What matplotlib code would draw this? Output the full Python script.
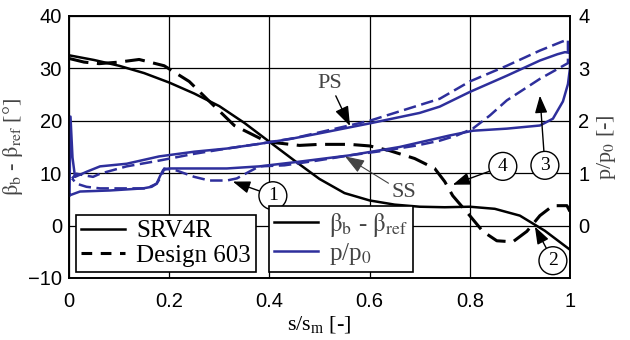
import matplotlib.pyplot as plt
from matplotlib.lines import Line2D

# blade angle distribution beta_b - beta_ref [deg] over s/s_m
s_srv = [0, 0.05, 0.1, 0.15, 0.2, 0.25, 0.3, 0.35, 0.4, 0.45, 0.5, 0.55,
         0.6, 0.65, 0.7, 0.75, 0.8, 0.85, 0.9, 0.95, 1.0]
beta_srv = [32.5, 31.6, 30.5, 29.1, 27.3, 25.2, 22.8, 19.6, 16.0, 12.4, 8.9, 6.2,
            4.8, 4.0, 3.6, 3.5, 3.6, 3.2, 1.9, -1.0, -4.6]

s_603 = [0, 0.03, 0.06, 0.1, 0.14, 0.19, 0.24, 0.275, 0.33, 0.395, 0.46, 0.5,
         0.56, 0.6, 0.64, 0.69, 0.73, 0.75, 0.766, 0.8, 0.826, 0.854, 0.886,
         0.914, 0.94, 0.966, 0.994, 1.0]
beta_603 = [31.9, 31.2, 30.9, 31.2, 31.7, 30.5, 27.5, 24.2, 19.1, 16.0, 15.3, 15.5,
            15.5, 15.2, 14.3, 12.8, 10.9, 8.4, 5.7, 1.9, -1.1, -2.9, -3.1,
            -1.1, 1.9, 3.8, 3.8, 2.7]

# static pressure p/p0, loop LE -> PS -> TE -> SS -> LE
s_p_srv = [0.001, 0.003, 0.007, 0.012, 0.036, 0.062, 0.115, 0.18, 0.25, 0.315, 0.38,
           0.44, 0.5, 0.6, 0.7, 0.74, 0.8, 0.874, 0.94, 0.975, 0.99, 0.998, 1.0,
           1.0, 0.996, 0.986, 0.966, 0.94, 0.874, 0.806, 0.76, 0.66, 0.56, 0.46,
           0.38, 0.315, 0.25, 0.2, 0.188, 0.182, 0.175, 0.165, 0.148, 0.082,
           0.022, 0.002]
p_srv = [0.58, 2.08, 1.3, 0.93, 1.03, 1.13, 1.18, 1.32, 1.41, 1.47, 1.56,
         1.65, 1.76, 1.95, 2.15, 2.27, 2.55, 2.86, 3.15, 3.27, 3.31, 3.3, 3.43,
         3.0, 2.7, 2.37, 2.04, 1.91, 1.85, 1.81, 1.72, 1.5, 1.34, 1.22,
         1.13, 1.09, 1.09, 1.09, 1.06, 0.95, 0.8, 0.74, 0.71, 0.67,
         0.65, 0.58]

s_p_603 = [0.006, 0.015, 0.03, 0.048, 0.062, 0.115, 0.18, 0.25, 0.315, 0.38, 0.45,
           0.5, 0.6, 0.7, 0.74, 0.8, 0.874, 0.94, 0.984, 0.996, 0.996, 0.94,
           0.874, 0.84, 0.806, 0.774, 0.74, 0.695, 0.63, 0.56, 0.495, 0.43,
           0.38, 0.36, 0.335, 0.315, 0.28, 0.25, 0.215, 0.19, 0.185, 0.175,
           0.155, 0.115, 0.062, 0.035, 0.015, 0.006]
p_603 = [0.9, 0.99, 0.96, 0.93, 0.99, 1.13, 1.24, 1.37, 1.47, 1.56, 1.67,
         1.78, 2.0, 2.3, 2.42, 2.75, 3.05, 3.34, 3.51, 3.55, 3.1, 2.8,
         2.39, 2.1, 1.85, 1.72, 1.62, 1.53, 1.43, 1.34, 1.24, 1.15,
         1.13, 1.03, 0.9, 0.86, 0.86, 0.93, 1.05, 1.09, 0.95, 0.8,
         0.71, 0.71, 0.71, 0.74, 0.8, 0.9]

x_ticks = [0, 0.2, 0.4, 0.6, 0.8, 1]
x_labels = ['0', '0.2', '0.4', '0.6', '0.8', '1']
beta_ticks = [-10, 0, 10, 20, 30, 40]
p_ticks = [0, 1, 2, 3, 4]

plt.rcParams['font.family'] = 'Liberation Sans'
plt.rcParams['mathtext.fontset'] = 'stix'
serif = 'Liberation Serif'
blue = '#2e2f9c'
gray = '#444444'

fig = plt.figure(figsize=(6.3, 3.4), dpi=100)
ax = fig.add_axes([0.1095, 0.1824, 0.7952, 0.7706])
ax2 = ax.twinx()

ax.plot(s_srv, beta_srv, color='black', lw=1.8)
ax.plot(s_603, beta_603, color='black', lw=2.2, dashes=(6.5, 2.8))
ax2.plot(s_p_srv, p_srv, color=blue, lw=1.8)
ax2.plot(s_p_603, p_603, color=blue, lw=1.8, dashes=(5, 2.2))

ax.set_xlim(0, 1)
ax.set_ylim(-10, 40)
ax2.set_ylim(-1, 4)
ax.set_xticks(x_ticks)
ax.set_xticklabels(x_labels)
ax.set_yticks(beta_ticks)
ax.set_yticklabels([str(t).replace('-', '\u2212') for t in beta_ticks])
ax2.set_yticks(p_ticks)
ax.grid(True, color='black', lw=0.9)
ax.tick_params(axis='both', length=0, labelsize=14.5)
ax.tick_params(axis='x', pad=10)
ax.tick_params(axis='y', pad=5)
ax2.tick_params(axis='y', length=0, labelsize=14.5, pad=6)
for a in (ax, ax2):
    for sp in a.spines.values():
        sp.set_linewidth(1.2)

ax.set_xlabel(r'$\mathregular{s/s_m}$ [-]', family=serif, fontsize=16, labelpad=2)
ax.set_ylabel(r'$\mathrm{\beta_b}$ - $\mathrm{\beta_{ref}}$ [°]', family=serif,
              fontsize=16, color=gray, labelpad=2)
ax2.set_ylabel(r'p/p$_\mathrm{0}$ [-]', family=serif, fontsize=16, color=gray,
               labelpad=4)

# annotations
arrow = dict(arrowstyle='-|>,head_length=0.75,head_width=0.27', color='black',
             lw=1.0, shrinkA=0, shrinkB=0)
ax2.annotate('PS', xy=(0.561, 19.0), xycoords=ax.transData, xytext=(0.521, 27.1),
             textcoords=ax.transData, ha='center', va='center', family=serif,
             fontsize=16, color=gray, arrowprops=arrow)
ax2.annotate('SS', xy=(0.551, 13.2), xycoords=ax.transData, xytext=(0.668, 6.3),
             textcoords=ax.transData, ha='center', va='center', family=serif,
             fontsize=16, color=gray,
             arrowprops=dict(arrow, color=gray, lw=0.8))

circ = dict(boxstyle='circle,pad=0.28', fc='white', ec='black', lw=1.0)
for num, tip, pos in [('1', (0.327, 8.4), (0.407, 5.7)),
                      ('2', (0.93, -0.2), (0.966, -6.7)),
                      ('3', (0.94, 24.8), (0.95, 11.5)),
                      ('4', (0.766, 7.8), (0.866, 11.3))]:
    ax2.annotate(num, xy=tip, xycoords=ax.transData, xytext=pos,
                 textcoords=ax.transData, ha='center', va='center',
                 family=serif, fontsize=14, bbox=circ, arrowprops=arrow)

# legends
leg_kw = dict(loc='lower left', borderaxespad=0, fancybox=False, framealpha=1,
              edgecolor='black', prop={'family': serif, 'size': 18},
              handlelength=1.75, handletextpad=0.45, labelspacing=0.08,
              borderpad=0.2)
h1 = [Line2D([], [], color='black', lw=1.8),
      Line2D([], [], color='black', lw=2.2, dashes=(3.5, 2.8))]
leg1 = ax2.legend(h1, ['SRV4R', 'Design 603'], bbox_to_anchor=(0.014, 0.023), **leg_kw)
leg1.get_frame().set_linewidth(1.2)
ax2.add_artist(leg1)
h2 = [Line2D([], [], color='black', lw=1.8),
      Line2D([], [], color=blue, lw=1.8)]
leg2 = ax2.legend(h2, [r'$\mathrm{\beta_b}$ - $\mathrm{\beta_{ref}}$', r'p/p$_\mathrm{0}$'],
                  bbox_to_anchor=(0.399, 0.023), **leg_kw)
leg2.get_frame().set_linewidth(1.2)
for t in leg2.get_texts():
    t.set_color(gray)

fig.savefig('out.png', dpi=100)
